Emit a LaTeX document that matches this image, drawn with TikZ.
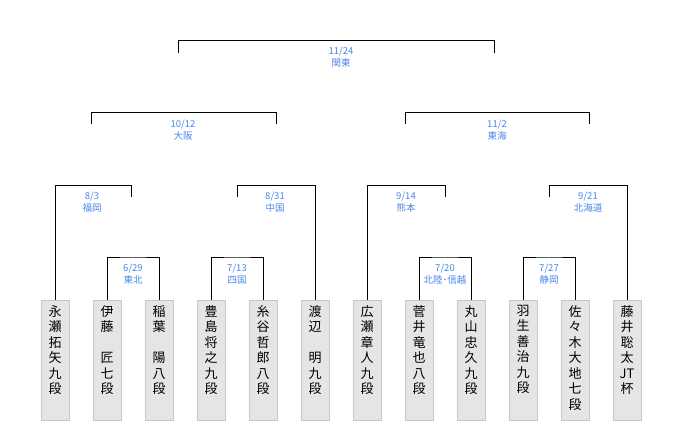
\documentclass[tikz,border=0pt]{standalone}
\usepackage{fontspec}
\setmainfont{Noto Sans CJK JP}
\begin{document}
\begin{tikzpicture}[x=1pt,y=-1pt,
  br/.style={draw=black,line width=1pt},
  lbl/.style={text=blue!50!cyan!70!black,font=\fontsize{9.5}{12}\selectfont,align=center,inner sep=0pt,anchor=north},
  pl/.style={draw=black!22,fill=black!10,line width=0.8pt,minimum width=28,minimum height=120,anchor=north,inner sep=0pt},
  pt/.style={font=\fontsize{13}{15.5}\selectfont,align=center,anchor=north,inner sep=0pt}]
\definecolor{lb}{HTML}{4A86E8}
\tikzset{lbl/.append style={text=lb}}
\useasboundingbox (0,0) rectangle (680,430);
% players
\foreach \x/\n/\t in {55/a/{永\\瀬\\拓\\矢\\九\\段},107/b/{伊\\藤\\\mbox{}\\匠\\七\\段},159/c/{稲\\葉\\\mbox{}\\陽\\八\\段},
  211/d/{豊\\島\\将\\之\\九\\段},263/e/{糸\\谷\\哲\\郎\\八\\段},315/f/{渡\\辺\\\mbox{}\\明\\九\\段},
  367/g/{広\\瀬\\章\\人\\九\\段},419/h/{菅\\井\\竜\\也\\八\\段},471/i/{丸\\山\\忠\\久\\九\\段},
  523/j/{羽\\生\\善\\治\\九\\段},575/k/{佐\\々\\木\\大\\地\\七\\段},627/l/{藤\\井\\聡\\太\\JT\\杯}}{
  \node[pl] (\n) at (\x,300) {};
  \node[pt] (\n t) at (\x,305) {\t};
}
% round 1
\coordinate (bc) at (133,258); \coordinate (hi) at (445,258);
\coordinate (de) at (237,258); \coordinate (jk) at (549,258);
\draw[br] (b.north) |- (bc) -| (c.north);
\draw[br] (d.north) |- (de) -| (e.north);
\draw[br] (h.north) |- (hi) -| (i.north);
\draw[br] (j.north) |- (jk) -| (k.north);
\node[lbl] (l1) at (133,264) {6/29\\東北};
\node[lbl] (l2) at (237,264) {7/13\\四国};
\node[lbl] (l3) at (445,264) {7/20\\北陸･信越};
\node[lbl] (l4) at (549,264) {7/27\\静岡};
% round 2
\coordinate (r2a) at (55,186); \coordinate (r2b) at (131,186);
\coordinate (r2c) at (237,186); \coordinate (r2d) at (315,186);
\coordinate (r2e) at (367,186); \coordinate (r2f) at (445,186);
\coordinate (r2g) at (549,186); \coordinate (r2h) at (627,186);
\draw[br] (a.north) -- (r2a) -- (r2b) -- ++(0,11);
\draw[br] (r2c) ++(0,11) -- (r2c) -- (r2d) -- (f.north);
\draw[br] (g.north) -- (r2e) -- (r2f) -- ++(0,11);
\draw[br] (r2g) ++(0,11) -- (r2g) -- (r2h) -- (l.north);
\node[lbl] (m1) at (92,192) {8/3\\福岡};
\node[lbl] (m2) at (275,192) {8/31\\中国};
\node[lbl] (m3) at (406,192) {9/14\\熊本};
\node[lbl] (m4) at (588,192) {9/21\\北海道};
% round 3
\coordinate (s1) at (91,113); \coordinate (s2) at (276,113);
\coordinate (s3) at (405,113); \coordinate (s4) at (589,113);
\draw[br] (s1) ++(0,11) -- (s1) -- (s2) -- ++(0,11);
\draw[br] (s3) ++(0,11) -- (s3) -- (s4) -- ++(0,11);
\node[lbl] (n1) at (183,120) {10/12\\大阪};
\node[lbl] (n2) at (497,120) {11/2\\東海};
% final
\coordinate (f1) at (178,41); \coordinate (f2) at (494,41);
\draw[br] (f1) ++(0,12) -- (f1) -- (f2) -- ++(0,12);
\node[lbl] (fl) at (341,47) {11/24\\関東};
\end{tikzpicture}
\end{document}
